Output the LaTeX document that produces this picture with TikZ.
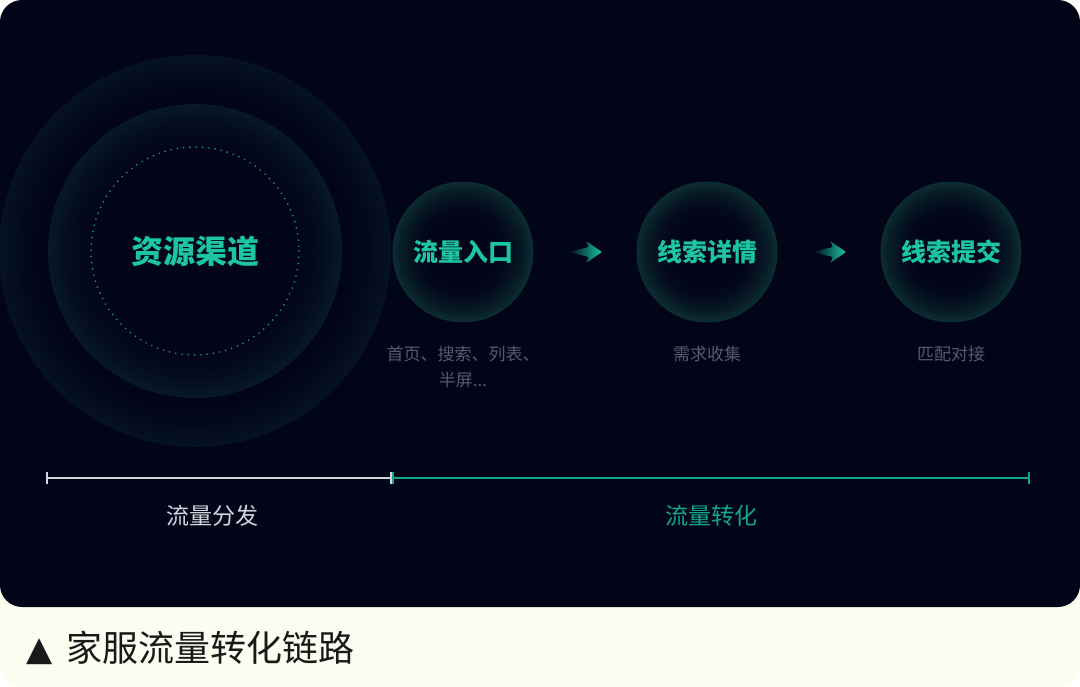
\documentclass[tikz,border=0pt]{standalone}
\usepackage{fontspec}
\setmainfont{Noto Sans CJK SC}
\newfontfamily\symfont{DejaVu Sans}
\usetikzlibrary{arrows.meta}
\usetikzlibrary{calc}
\usetikzlibrary{positioning}

\definecolor{panelbg}{HTML}{020418}
\definecolor{creambg}{HTML}{FDFCF1}
\definecolor{leadteal}{HTML}{1CC6A0}
\definecolor{lineteal}{HTML}{12A68C}
\definecolor{glowteal}{HTML}{0C2E32}
\definecolor{ringblue}{HTML}{07192A}
\definecolor{outerblue}{HTML}{051324}
\definecolor{dotteal}{HTML}{1B9A85}
\definecolor{hintgray}{HTML}{575A69}
\definecolor{railgray}{HTML}{D4D4DC}

% concentric fade: centre, outer radius, next radius, inner radius, colour
\newcommand{\glowdisc}[5]{%
  \foreach \gr [evaluate=\gr as \gp using {int(100*((\gr-#4)/(#2-#4))^2)}] in {#2,#3,...,#4}
    \fill[#5!\gp!panelbg] (#1) circle[radius=\gr];}

\newcommand{\flowarrow}[1]{%
  \path[shift={(#1)}, left color=panelbg, right color=leadteal, rounded corners=1pt]
    (-17,0) -- (4,-5) -- (1,-11) -- (17,0) -- (1,11) -- (4,5) -- cycle;}

\begin{document}
\begin{tikzpicture}[x=1pt, y=-1pt,
        on grid,
        hub/.style={text=leadteal, font=\bfseries\fontsize{32}{32}\selectfont},
        stage/.style={circle, minimum size=141pt, inner sep=0pt,
          path picture={\glowdisc{path picture bounding box.center}{71}{70}{28}{glowteal}},
          text=leadteal, font=\bfseries\fontsize{25}{25}\selectfont},
        hint/.style={text=hintgray, align=center, font=\fontsize{17}{26}\selectfont},
        phase/.style={font=\fontsize{23}{23}\selectfont},
        rail/.style={line width=2pt, {Bar[width=12pt,line width=2pt]}-{Bar[width=12pt,line width=2pt]}}]

      \useasboundingbox (0,0) rectangle (1080,687);

      % panels
      \fill[white] (0,0) rectangle (1080,687);
      \fill[creambg, rounded corners=22pt] (0,0) rectangle (1080,687);
      \fill[panelbg, rounded corners=22pt] (0,0) rectangle (1080,607);

      % resource rings
      \coordinate (hubc) at (195,251);
      \begin{scope}
        \clip (0,0) rectangle (1080,607);
        \glowdisc{hubc}{196}{195}{140}{outerblue}
      \end{scope}
      \glowdisc{hubc}{147}{146}{90}{ringblue}
      \draw[dotteal, line width=1.8pt, line cap=round, dash pattern=on 0pt off 6.3pt]
        (hubc) circle[radius=104];
      \node[hub] (channel) at (hubc) {资源渠道};

      % stages
      \node[stage]                     (entry)  at (463,252) {流量入口};
      \node[stage, right=244pt of entry]  (detail) {线索详情};
      \node[stage, right=244pt of detail] (submit) {线索提交};

      \node[hint, below=115pt of entry]  (entryhint)  {首页、搜索、列表、\\半屏...};
      \node[hint, below=102pt of detail] (detailhint) {需求收集};
      \node[hint, below=102pt of submit] (submithint) {匹配对接};

      \coordinate (arrowa) at ($(entry)!0.5!(detail)$);
      \coordinate (arrowb) at ($(detail)!0.5!(submit)$);
      \flowarrow{arrowa}
      \flowarrow{arrowb}

      % rail
      \coordinate (railstart) at (46,478);
      \coordinate (railsplit) at (392,478);
      \coordinate (railend)   at (1030,478);
      \draw[rail, railgray] (railstart) -- (railsplit);
      \draw[rail, lineteal] (railsplit) -- (railend);

      \node[phase, text=railgray] (spread)  at (212,516) {流量分发};
      \node[phase, text=lineteal] (convert) at (711,516) {流量转化};

      % caption
      \node[anchor=west, text=black!90, font=\fontsize{36}{36}\selectfont] (caption) at (23,648)
        {{\symfont\fontsize{34}{34}\selectfont\raisebox{1pt}{▲}}\hspace{14pt}家服流量转化链路};

\end{tikzpicture}
\end{document}
